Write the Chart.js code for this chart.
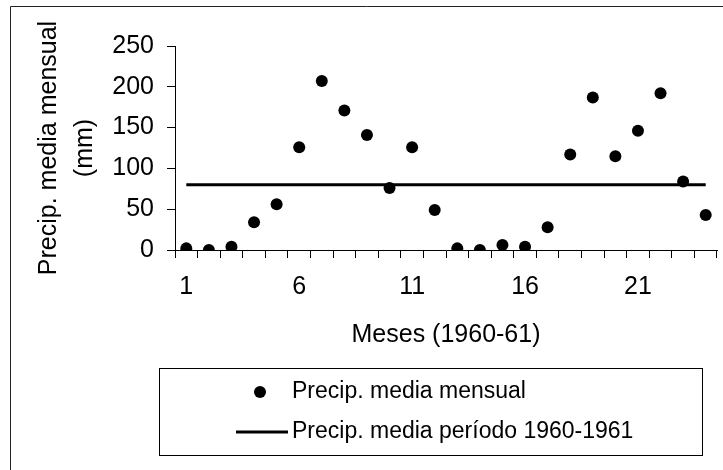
<!DOCTYPE html>
<html>
<head>
<meta charset="utf-8">
<script src="https://cdn.jsdelivr.net/npm/chart.js@4.4.1/dist/chart.umd.min.js"></script>
<style>
  html, body { margin: 0; padding: 0; background: #fff; }
  #wrap { width: 723px; height: 470px; position: relative; }
</style>
</head>
<body>
<div id="wrap"><canvas id="chart" width="723" height="470"></canvas></div>
<script>
// months 1..24 (1960-61)
const months = ['1','2','3','4','5','6','7','8','9','10','11','12',
                '13','14','15','16','17','18','19','20','21','22','23','24']
// monthly mean precipitation (mm)
const precipMensual = [2, 0, 4, 34, 56, 126, 207, 171, 141, 76, 126, 49,
                       2, 0, 6, 4, 28, 117, 187, 115, 146, 192, 84, 43]
// mean of the period, flat line
const precipPeriodo = [80, 80, 80, 80, 80, 80, 80, 80, 80, 80, 80, 80,
                       80, 80, 80, 80, 80, 80, 80, 80, 80, 80, 80, 80]
const xTickLabels = ['1', '6', '11', '16', '21']
const yTicks = [0, 50, 100, 150, 200, 250]

const FONT = 'Liberation Sans, Arial, sans-serif'

// outer frame (only top and left edge are inside the picture)
const framePlugin = {
    id: 'frame',
    beforeDraw(chart) {
        const ctx = chart.ctx
        ctx.save()
        ctx.fillStyle = '#fff'
        ctx.fillRect(0, 0, chart.width, chart.height)
        ctx.strokeStyle = '#222'
        ctx.lineWidth = 1
        ctx.beginPath()
        ctx.moveTo(10.5, chart.height)
        ctx.lineTo(10.5, 6.5)
        ctx.lineTo(chart.width, 6.5)
        ctx.stroke()
        ctx.restore()
    }
}

// boxed legend under the axis title, items stacked
const boxLegend = {
    id: 'boxLegend',
    afterDraw(chart) {
        const ctx = chart.ctx
        const box = { x: 159.5, y: 368.5, w: 543, h: 87 }
        ctx.save()
        ctx.strokeStyle = '#000'
        ctx.lineWidth = 1
        ctx.strokeRect(box.x, box.y, box.w, box.h)
        ctx.font = '23px ' + FONT
        ctx.fillStyle = '#000'
        ctx.textBaseline = 'middle'
        ctx.textAlign = 'left'
        const ds = chart.data.datasets
        // points series
        ctx.beginPath()
        ctx.arc(260, 392, 6, 0, Math.PI * 2)
        ctx.fillStyle = ds[0].pointBackgroundColor
        ctx.fill()
        ctx.fillStyle = '#000'
        ctx.fillText(ds[0].label, 292, 392)
        // line series
        ctx.beginPath()
        ctx.moveTo(236, 432)
        ctx.lineTo(288, 432)
        ctx.strokeStyle = ds[1].borderColor
        ctx.lineWidth = 3
        ctx.stroke()
        ctx.fillText(ds[1].label, 292, 432)
        ctx.restore()
    }
}

const ctx = document.getElementById('chart').getContext('2d')
new Chart(ctx, {
    type: 'line',
    data: {
        labels: months,
        datasets: [
            {
                label: 'Precip. media mensual',
                data: precipMensual,
                showLine: false,
                pointRadius: 6,
                pointHoverRadius: 6,
                pointBackgroundColor: '#000',
                pointBorderColor: '#000',
                pointBorderWidth: 0
            },
            {
                label: 'Precip. media período 1960-1961',
                data: precipPeriodo,
                borderColor: '#000',
                borderWidth: 3,
                pointRadius: 0,
                tension: 0
            }
        ]
    },
    options: {
        responsive: false,
        animation: false,
        devicePixelRatio: 1,
        layout: { padding: { top: 46, right: 4, bottom: 115, left: 0 } },
        plugins: {
            legend: { display: false },
            tooltip: { enabled: false }
        },
        scales: {
            x: {
                type: 'category',
                offset: true,
                grid: { offset: true, drawOnChartArea: false, drawTicks: true, tickLength: 8, color: '#000' },
                border: { display: true, color: '#000', width: 1 },
                ticks: {
                    autoSkip: false,
                    maxRotation: 0,
                    color: '#000',
                    padding: 14,
                    font: { family: FONT, size: 25 },
                    callback: function (value, index) {
                        const lab = months[index]
                        return xTickLabels.includes(lab) ? lab : ''
                    }
                },
                title: {
                    display: true,
                    text: 'Meses (1960-61)',
                    color: '#000',
                    font: { family: FONT, size: 25, lineHeight: 1.2 },
                    padding: { top: 0, bottom: 5 }
                },
                afterFit: function (scale) { scale.height = 105 }
            },
            y: {
                min: 0,
                max: 250,
                afterBuildTicks: function (scale) {
                    scale.ticks = yTicks.map(v => ({ value: v }))
                },
                grid: { drawOnChartArea: false, drawTicks: true, tickLength: 8, color: '#000' },
                border: { display: true, color: '#000', width: 1 },
                ticks: {
                    color: '#000',
                    padding: 13,
                    font: { family: FONT, size: 25 }
                },
                title: {
                    display: true,
                    text: ['Precip. media mensual', '(mm)'],
                    color: '#000',
                    font: { family: FONT, size: 25, lineHeight: 1.44 },
                    padding: { top: 31, bottom: 0 }
                },
                afterFit: function (scale) { scale.width = 175 }
            }
        }
    },
    plugins: [framePlugin, boxLegend]
})
</script>
</body>
</html>
